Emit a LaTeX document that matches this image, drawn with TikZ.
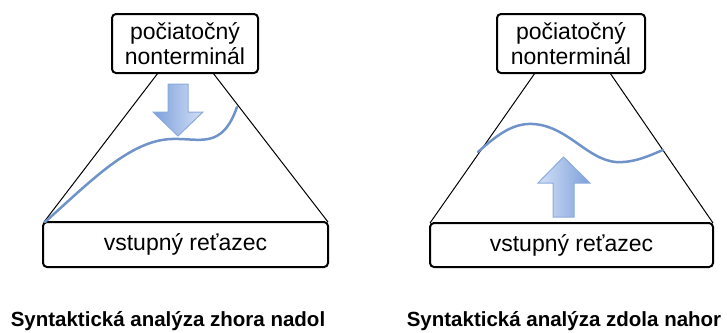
\documentclass[tikz,border=0pt]{standalone}
\usepackage{fontspec}
\setmainfont{Liberation Sans}
\usetikzlibrary{shadings}
\definecolor{curveblue}{HTML}{6F93C9}
\definecolor{arrowdark}{HTML}{7C9FDB}
\definecolor{arrowlight}{HTML}{D3E0F6}
\definecolor{arrowedge}{HTML}{8BAADC}
\tikzset{
  box/.style={draw=black, line width=2pt, rounded corners=4pt, fill=white, inner sep=0pt},
  boxtext/.style={font=\fontsize{23}{25}\selectfont, align=center},
  side/.style={draw=black, line width=1pt},
  wave/.style={draw=curveblue, line width=2.5pt, line cap=round},
  blockarrow/.style={draw=arrowedge, line width=1pt},
  caption/.style={font=\fontsize{20.5}{23}\selectfont\bfseries, anchor=base}
}
\begin{document}
\begin{tikzpicture}[x=1pt,y=-1pt]
\useasboundingbox (0,0) rectangle (727,332);
% ---------- left: top-down ----------
\coordinate (lTL) at (158,73);
\coordinate (lTR) at (213,73);
\coordinate (lBL) at (44,222);
\coordinate (lBR) at (328,222);
\draw[side] (lTL) -- (lBL);
\draw[side] (lTR) -- (lBR);
\node[box, minimum width=146pt, minimum height=59pt] (ltop) at (185,43.5) {};
\node[boxtext] (ltoptext) at (ltop.center) {počiatočný\\nonterminál};
\node[box, minimum width=285pt, minimum height=45pt] (lbot) at (185.5,244.5) {};
\node[boxtext] (lbottext) at (lbot.center) {vstupný reťazec};
\coordinate (lw1) at (45,222);
\coordinate (lw2) at (172,139);
\coordinate (lw3) at (237,107);
\draw[wave] (lw1) .. controls (90,182) and (130,140) .. (lw2) .. controls (200,138) and (222,150) .. (lw3);
\shadedraw[blockarrow, left color=arrowdark, right color=arrowlight]
  (168,84) -- (188,84) -- (188,112) -- (203,112) -- (178,136) -- (153,112) -- (168,112) -- cycle;
\node[caption] (lcap) at (168,326) {Syntaktická analýza zhora nadol};
% ---------- right: bottom-up ----------
\coordinate (rTL) at (535,73);
\coordinate (rTR) at (610,73);
\coordinate (rBL) at (430,223);
\coordinate (rBR) at (713,223);
\draw[side] (rTL) -- (rBL);
\draw[side] (rTR) -- (rBR);
\node[box, minimum width=148pt, minimum height=59pt] (rtop) at (571,43.5) {};
\node[boxtext] (rtoptext) at (rtop.center) {počiatočný\\nonterminál};
\node[box, minimum width=283pt, minimum height=44pt] (rbot) at (571.5,245) {};
\node[boxtext] (rbottext) at (rbot.center) {vstupný reťazec};
\coordinate (rw1) at (478,152);
\coordinate (rw2) at (533,124);
\coordinate (rw3) at (623,162);
\coordinate (rw4) at (663,150);
\draw[wave] (rw1) .. controls (500,132) and (515,123) .. (rw2) .. controls (570,126) and (590,165) .. (rw3) .. controls (640,161) and (655,153) .. (rw4);
\shadedraw[blockarrow, left color=arrowlight, right color=arrowdark]
  (553,217) -- (574,217) -- (574,183) -- (590,183) -- (563.5,157) -- (538,183) -- (553,183) -- cycle;
\node[caption] (rcap) at (564,326) {Syntaktická analýza zdola nahor};
\end{tikzpicture}
\end{document}
